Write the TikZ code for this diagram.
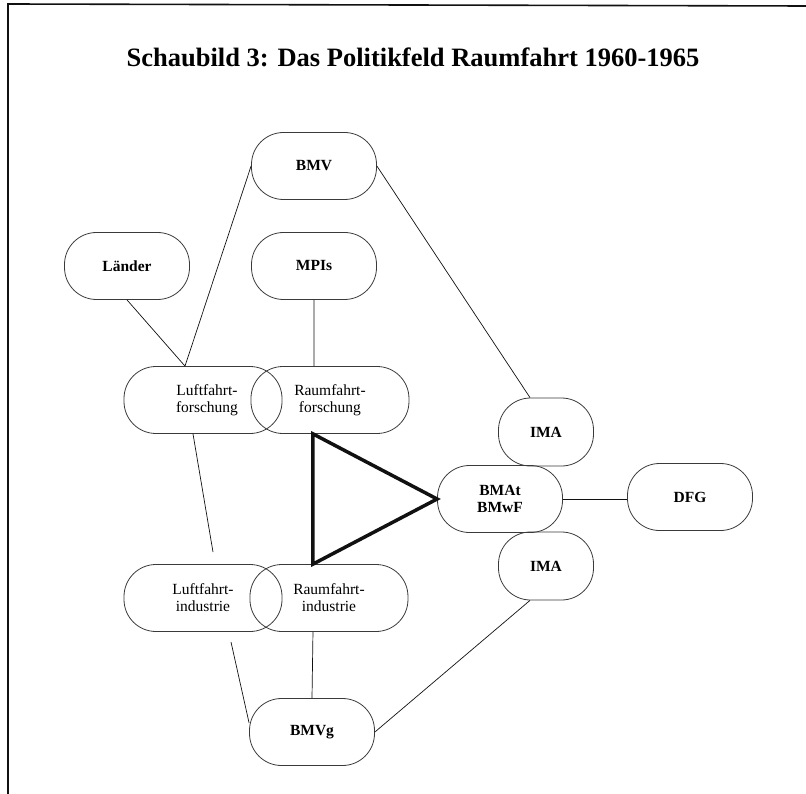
\documentclass[tikz,border=0pt]{standalone}
\usepackage{fontspec}
\setmainfont{Liberation Serif}
\usepackage{tikz}
\definecolor{ink}{HTML}{111111}
\definecolor{rim}{HTML}{3A3A3A}

\begin{document}
\begin{tikzpicture}[x=1pt, y=-1pt, node distance=1.5cm,
    every node/.style={font=\fontsize{15.5}{17}\selectfont, inner sep=0pt, align=center},
    pill/.style={draw=rim, line width=0.8pt, rounded corners=32pt, minimum width=125pt, minimum height=67pt},
    wide/.style={pill, minimum width=158pt},
    small/.style={pill, minimum width=95pt, minimum height=68pt},
    link/.style={draw=ink, line width=0.7pt}]
      \useasboundingbox (0,0) rectangle (806,794);
      % frame and title
      \draw[ink, line width=1.6pt] (8,794) -- (8,4) -- (806,6);
      \node[font=\fontsize{26.5}{30}\selectfont\bfseries] (title) at (413,57) {Schaubild 3: Das Politikfeld Raumfahrt 1960-1965};

      \node[pill, font=\fontsize{15.5}{17}\selectfont\bfseries] (bmv) at (314,166) {BMV};
      \node[pill, font=\fontsize{15.5}{17}\selectfont\bfseries] (laender) at (127,266) {Länder};
      \node[pill, font=\fontsize{15.5}{17}\selectfont\bfseries] (mpis) at (314,266) {MPIs};
      \node[wide] (lffor) at (203,400) {\hspace*{8pt}Luftfahrt-\\\hspace*{8pt}forschung};
      \node[wide, right of=lffor, xshift=84.3pt] (rffor) {Raumfahrt-\\forschung};
      \node[wide] (lfind) at (203,598) {Luftfahrt-\\industrie};
      \node[wide, right of=lfind, xshift=83.3pt] (rfind) {Raumfahrt-\\industrie};
      \node[small, font=\fontsize{15.5}{17}\selectfont\bfseries] (imaA) at (546,432) {IMA};
      \node[pill, font=\fontsize{15.5}{17}\selectfont\bfseries] (bmat) at (500,499) {BMAt\\BMwF};
      \node[pill, font=\fontsize{15.5}{17}\selectfont\bfseries] (dfg) at (690,497) {DFG};
      \node[small, font=\fontsize{15.5}{17}\selectfont\bfseries] (imaB) at (546,566) {IMA};
      \node[pill, font=\fontsize{15.5}{17}\selectfont\bfseries] (bmvg) at (312,732) {BMVg};

      % loose line ends
      \coordinate (lfgapA) at (213,552);
      \coordinate (lfgapB) at (231,642);

      \draw[link] (bmv.west) -- ([xshift=-18pt]lffor.north);
      \draw[link] (laender.south) -- ([xshift=-18pt]lffor.north);
      \draw[link] (bmv.east) -- ([xshift=-16pt]imaA.north);
      \draw[link] (mpis.south) -- ([xshift=-16pt]rffor.north);
      \draw[link] ([xshift=-10pt]lffor.south) -- (lfgapA);
      \draw[link] (lfgapB) -- ([yshift=9pt]bmvg.west);
      \draw[link] ([xshift=-16pt]rfind.south) -- (bmvg.north);
      \draw[link] (bmvg.east) -- ([xshift=-16pt]imaB.south);
      \draw[link] (bmat.east) -- (bmat.east -| dfg.west);
      \draw[ink, line width=3.5pt, line join=miter] ([xshift=-17pt]rffor.south) -- ([xshift=-16pt]rfind.north) -- (bmat.west) -- cycle;
    \end{tikzpicture}
\end{document}
